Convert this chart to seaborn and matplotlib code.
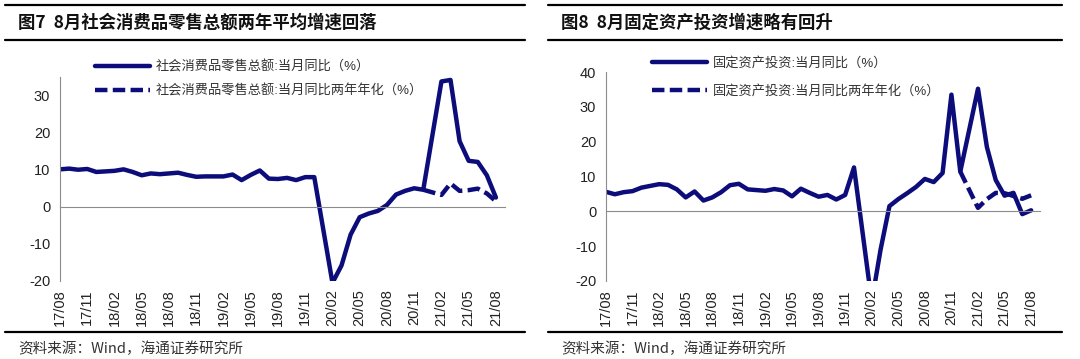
import matplotlib
matplotlib.use("Agg")
import numpy as np
import pandas as pd
import matplotlib.pyplot as plt
from matplotlib.lines import Line2D
import seaborn as sns

# monthly points, January folded into February (Jan-Feb data)
months = [
    "17/08", "17/09", "17/10", "17/11", "17/12",
    "18/02", "18/03", "18/04", "18/05", "18/06", "18/07", "18/08", "18/09", "18/10", "18/11", "18/12",
    "19/02", "19/03", "19/04", "19/05", "19/06", "19/07", "19/08", "19/09", "19/10", "19/11", "19/12",
    "20/02", "20/03", "20/04", "20/05", "20/06", "20/07", "20/08", "20/09", "20/10", "20/11", "20/12",
    "21/02", "21/03", "21/04", "21/05", "21/06", "21/07", "21/08",
]
retail_yoy = [
    10.1, 10.3, 10.0, 10.2, 9.4,
    9.7, 10.1, 9.4, 8.5, 9.0, 8.8, 9.0, 9.2, 8.6, 8.1, 8.2,
    8.2, 8.7, 7.2, 8.6, 9.8, 7.6, 7.5, 7.8, 7.2, 8.0, 8.0,
    -20.5, -15.8, -7.5, -2.8, -1.8, -1.1, 0.5, 3.3, 4.3, 5.0, 4.6,
    33.8, 34.2, 17.7, 12.4, 12.1, 8.5, 2.5,
]
fai_yoy = [
    5.6, 4.9, 5.5, 5.8, 6.8,
    7.8, 7.6, 6.3, 4.0, 5.7, 3.1, 4.0, 5.5, 7.5, 7.9, 6.3,
    5.9, 6.4, 6.0, 4.3, 6.5, 5.3, 4.2, 4.7, 3.4, 4.7, 12.6,
    -26.0, -11.0, 1.5, 3.5, 5.2, 7.0, 9.3, 8.4, 11.0, 33.5, 11.4,
    35.2, 18.5, 9.0, 4.5, 5.3, -0.8, 0.3,
]
two_year_months = ["20/12", "21/02", "21/03", "21/04", "21/05", "21/06", "21/07", "21/08"]
retail_2y = [4.6, 3.2, 6.3, 4.3, 4.5, 4.9, 3.6, 1.5]
fai_2y = [11.4, 1.0, 3.5, 5.3, 5.2, 4.4, 3.6, 4.6]

tick_labels = ["17/08", "17/11", "18/02", "18/05", "18/08", "18/11", "19/02", "19/05",
               "19/08", "19/11", "20/02", "20/05", "20/08", "20/11", "21/02", "21/05", "21/08"]

titles = ["图7  8月社会消费品零售总额两年平均增速回落", "图8  8月固定资产投资增速略有回升"]
legend_labels = [
    ["社会消费品零售总额:当月同比（%）", "社会消费品零售总额:当月同比两年年化（%）"],
    ["固定资产投资:当月同比（%）", "固定资产投资:当月同比两年年化（%）"],
]
source = "资料来源：Wind，海通证券研究所"

NAVY = "#0c0c7a"
GRAY = "#8c8c8c"
W, H = 1080, 359

sns.set_style("white")
plt.rcParams["font.family"] = ["Liberation Sans", "Noto Sans CJK SC"]
plt.rcParams["axes.unicode_minus"] = False


def month_index(lbl):
    yy, mm = lbl.split("/")
    return (int(yy) - 17) * 12 + int(mm) - 8


def px(x, y):
    return x / W, 1 - y / H


fig = plt.figure(figsize=(W / 100, H / 100), dpi=100)

panels = [
    dict(rect=(60, 77, 505, 281), ylim=(-20, 35), yticks=range(-20, 31, 10),
         solid=retail_yoy, dashed=retail_2y, leg=(95, 60), spacing=0.85, rule=(5, 525), text_x=18),
    dict(rect=(606, 72, 1040, 281), ylim=(-20, 40), yticks=range(-20, 41, 10),
         solid=fai_yoy, dashed=fai_2y, leg=(652, 57), spacing=1.15, rule=(548, 1062), text_x=561),
]

for k, p in enumerate(panels):
    x0, y0, x1, y1 = p["rect"]
    ax = fig.add_axes([x0 / W, 1 - y1 / H, (x1 - x0) / W, (y1 - y0) / H])

    df_solid = pd.DataFrame({"x": [month_index(m) for m in months], "y": p["solid"]})
    df_dash = pd.DataFrame({"x": [month_index(m) for m in two_year_months], "y": p["dashed"]})
    sns.lineplot(data=df_solid, x="x", y="y", ax=ax, color=NAVY, lw=3.2,
                 label=legend_labels[k][0], solid_joinstyle="round")
    sns.lineplot(data=df_dash, x="x", y="y", ax=ax, color=NAVY, lw=3.2,
                 linestyle=(0, (2.8, 1.2)), label=legend_labels[k][1])

    ax.set_xlim(0, 49)
    ax.set_ylim(*p["ylim"])
    ax.set_yticks(list(p["yticks"]))
    ax.set_xlabel("")
    ax.set_ylabel("")
    for s in ["top", "right"]:
        ax.spines[s].set_visible(False)
    ax.spines["left"].set_color(GRAY)
    ax.spines["bottom"].set_color(GRAY)
    ax.spines["bottom"].set_position(("data", 0))
    tick_pos = [month_index(t) for t in tick_labels]
    ax.set_xticks(tick_pos)
    ax.tick_params(axis="x", direction="out", length=4, color=GRAY, labelbottom=False)
    ax.tick_params(axis="y", direction="out", length=4, color=GRAY, labelsize=10.5,
                   labelcolor="#222222", pad=3)

    sec = ax.secondary_xaxis("bottom")
    sec.set_xticks(tick_pos, tick_labels, rotation=90)
    sec.tick_params(length=0, pad=6, labelsize=10.5, labelcolor="#222222")
    sec.spines["bottom"].set_visible(False)

    lx, ly = px(*p["leg"])
    ax.legend(loc="upper left", bbox_to_anchor=(lx, ly), bbox_transform=fig.transFigure,
              frameon=False, handlelength=4.2, fontsize=9.5, labelspacing=p["spacing"],
              handletextpad=0.4, borderaxespad=0, borderpad=0, labelcolor="#333333")

    # header / footer rules and texts
    r0, r1 = p["rule"]
    for yy in (5, 40, 332):
        fig.add_artist(Line2D([r0 / W, r1 / W], [1 - yy / H] * 2, color="black", lw=1.6,
                              transform=fig.transFigure))
    tx, ty = px(p["text_x"], 23)
    fig.text(tx, ty, titles[k], fontsize=12.5, fontweight="bold", va="center", ha="left",
             family=["Noto Sans CJK SC", "Liberation Sans"], color="#111111")
    sx, sy = px(p["text_x"], 349)
    fig.text(sx, sy, source, fontsize=10.5, va="center", ha="left",
             family=["Noto Sans CJK SC", "Liberation Sans"], color="#333333")

fig.savefig("out.png", dpi=100)
